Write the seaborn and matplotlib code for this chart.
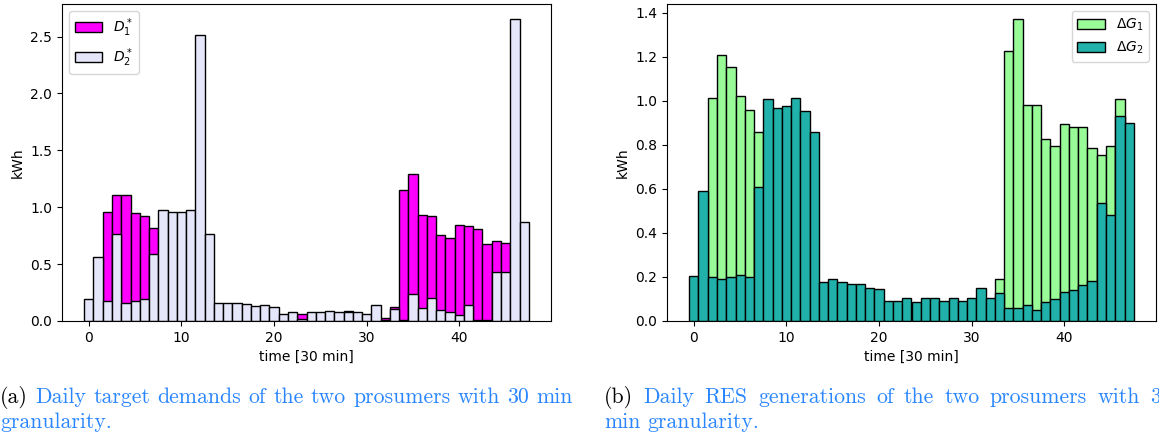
import matplotlib
matplotlib.use("Agg")
import matplotlib.pyplot as plt
import seaborn as sns

slots = list(range(48))

d1 = [0, 0, 0.96, 1.11, 1.11, 0.946, 0.92, 0.82, 0, 0,
      0, 0, 0, 0, 0, 0, 0, 0, 0, 0,
      0, 0, 0, 0.06, 0, 0, 0, 0, 0.09, 0,
      0, 0, 0.03, 0.126, 1.152, 1.296, 0.935, 0.92, 0.755, 0.732,
      0.844, 0.832, 0.805, 0.676, 0.705, 0.69, 0, 0]
d2 = [0.19, 0.564, 0.18, 0.767, 0.16, 0.18, 0.19, 0.588, 0.973, 0.955,
      0.955, 0.973, 2.516, 0.765, 0.162, 0.162, 0.16, 0.15, 0.13, 0.14,
      0.12, 0.065, 0.077, 0.015, 0.077, 0.077, 0.088, 0.077, 0.082, 0.077,
      0.065, 0.14, 0.012, 0.109, 0.01, 0.241, 0.112, 0.2, 0.1, 0.082,
      0.05, 0.141, 0.005, 0.005, 0.432, 0.432, 2.654, 0.87]
g1 = [0, 0, 1.015, 1.208, 1.153, 1.021, 0.961, 0.861, 0, 0,
      0, 0, 0, 0, 0, 0, 0, 0, 0, 0,
      0, 0, 0, 0, 0, 0, 0, 0, 0, 0,
      0, 0, 0, 0.193, 1.228, 1.372, 0.98, 0.98, 0.829, 0.796,
      0.895, 0.882, 0.882, 0.788, 0.756, 0.796, 1.009, 0]
g2 = [0.204, 0.59, 0.198, 0.192, 0.198, 0.211, 0.198, 0.609, 1.009, 0.968,
      0.977, 1.013, 0.955, 0.861, 0.178, 0.192, 0.178, 0.166, 0.166, 0.152,
      0.145, 0.091, 0.091, 0.105, 0.085, 0.105, 0.105, 0.091, 0.105, 0.091,
      0.105, 0.151, 0.105, 0.125, 0.058, 0.058, 0.073, 0.05, 0.085, 0.1,
      0.131, 0.14, 0.164, 0.184, 0.537, 0.482, 0.93, 0.902]

W, H = 1159, 438
fig = plt.figure(figsize=(W / 100, H / 100), dpi=100)
ax1 = fig.add_axes([62 / W, 1 - 321 / H, 489 / W, 317 / H])
ax2 = fig.add_axes([667 / W, 1 - 321 / H, 489 / W, 317 / H])

common = dict(native_scale=True, width=1, edgecolor="black", linewidth=1,
              saturation=1, errorbar=None)
sns.barplot(x=slots, y=d1, color="#ff00ff", label=r"$D_1^*$", ax=ax1, **common)
sns.barplot(x=slots, y=d2, color="#e6e6fa", label=r"$D_2^*$", ax=ax1, **common)
sns.barplot(x=slots, y=g1, color="#98fb98", label=r"$\Delta G_1$", ax=ax2, **common)
sns.barplot(x=slots, y=g2, color="#20b2aa", label=r"$\Delta G_2$", ax=ax2, **common)

for ax in (ax1, ax2):
    ax.set_xlabel("time [30 min]", fontsize=10)
    ax.set_ylabel("kWh", fontsize=10)
    ax.tick_params(labelsize=10)
    ax.set_xticks([0, 10, 20, 30, 40])
ax1.legend(loc="upper left", fontsize=10)
ax2.legend(loc="upper right", fontsize=10)

# captions
blue = "#2a86ff"
fs = 15.7
renderer = fig.canvas.get_renderer()


def place_words(x0, y_px, words, colors, x_last_start=None, x_end=None):
    texts = [fig.text(0, 1 - y_px / H, w, fontfamily="cmr10", fontsize=fs,
                      color=c, va="baseline") for w, c in zip(words, colors)]
    widths = [t.get_window_extent(renderer).width for t in texts]
    n = len(words)
    if x_end is not None:
        gap = (x_end - x0 - sum(widths)) / (n - 1)
    elif x_last_start is not None:
        gap = (x_last_start - x0 - sum(widths[:-1])) / (n - 1)
    else:
        gap = fs * 100 / 72 * 0.333
    x = x0
    for t, w in zip(texts, widths):
        t.set_x(x / W)
        x += w + gap


wa = "(a) Daily target demands of the two prosumers with 30 min".split()
place_words(0, 403, wa, ["black"] + [blue] * (len(wa) - 1), x_end=573)
place_words(0, 428, ["granularity."], [blue])
wb = "(b) Daily RES generations of the two prosumers with 30".split()
place_words(604, 403, wb, ["black"] + [blue] * (len(wb) - 1), x_last_start=1150)
place_words(604, 428, ["min", "granularity."], [blue, blue])

fig.savefig("out.png", dpi=100)
